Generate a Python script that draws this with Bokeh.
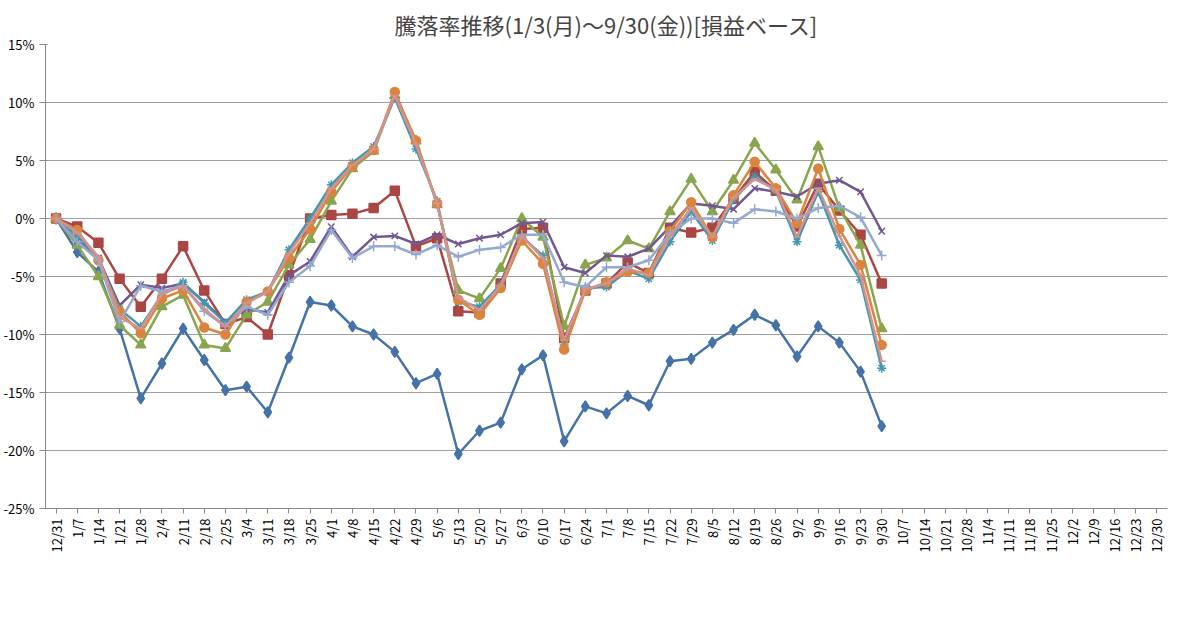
import math
from bokeh.plotting import figure
from bokeh.models import FactorRange, Range1d, FixedTicker, PrintfTickFormatter, Legend, LegendItem
from bokeh.embed import file_html
from bokeh.resources import INLINE

dates = ["12/31","1/7","1/14","1/21","1/28","2/4","2/11","2/18","2/25","3/4","3/11","3/18","3/25",
         "4/1","4/8","4/15","4/22","4/29","5/6","5/13","5/20","5/27","6/3","6/10","6/17","6/24",
         "7/1","7/8","7/15","7/22","7/29","8/5","8/12","8/19","8/26","9/2","9/9","9/16","9/23","9/30",
         "10/7","10/14","10/21","10/28","11/4","11/11","11/18","11/25","12/2","12/9","12/16","12/23","12/30"]

my_assets = [0,-2.9,-4.6,-9.5,-15.5,-12.5,-9.5,-12.2,-14.8,-14.5,-16.7,-12.0,-7.2,-7.5,-9.3,-10.0,-11.5,-14.2,-13.4,
             -20.3,-18.3,-17.6,-13.0,-11.8,-19.2,-16.2,-16.8,-15.3,-16.1,-12.3,-12.1,-10.7,-9.6,-8.3,-9.2,-11.9,-9.3,-10.7,-13.2,-17.9]
es_all = [0,-0.7,-2.1,-5.2,-7.6,-5.2,-2.4,-6.2,-9.1,-8.5,-10.0,-4.9,0.0,0.3,0.4,0.9,2.4,-2.4,-1.7,
          -8.0,-8.1,-5.6,-0.9,-0.8,-10.3,-6.2,-5.6,-3.8,-4.7,-0.8,-1.2,-0.8,1.7,4.0,2.4,-0.7,3.0,0.7,-1.4,-5.6]
fi_us = [0,-2.3,-5.0,-9.2,-10.9,-7.6,-6.6,-10.9,-11.2,-8.3,-7.2,-4.0,-1.8,1.5,4.3,5.8,10.6,6.7,1.2,
         -6.2,-6.9,-4.3,0.0,-1.6,-9.3,-4.0,-3.4,-1.9,-2.6,0.6,3.4,0.6,3.3,6.5,4.2,1.6,6.2,0.9,-2.3,-9.5]
fi_growth = [0,-1.9,-3.4,-7.5,-5.7,-6.0,-5.6,-7.2,-8.9,-7.8,-8.1,-4.9,-3.7,-0.7,-3.3,-1.6,-1.5,-2.2,-1.4,
             -2.2,-1.7,-1.4,-0.4,-0.3,-4.2,-4.7,-3.2,-3.3,-2.6,-0.7,1.3,1.1,0.8,2.6,2.3,1.9,3.0,3.3,2.3,-1.1]
dc_adv = [0,-1.5,-3.5,-7.8,-9.3,-6.6,-5.5,-7.3,-9.0,-7.0,-6.3,-2.7,0.0,2.9,4.8,6.2,10.4,6.0,1.5,
          -7.2,-7.6,-5.7,-1.6,-3.2,-10.9,-6.0,-5.9,-4.5,-5.2,-2.0,0.6,-1.9,1.6,3.6,2.4,-2.0,2.3,-2.3,-5.3,-12.9]
e_us = [0,-1.0,-3.6,-8.0,-9.9,-6.9,-6.2,-9.4,-10.0,-7.2,-6.3,-3.4,-0.9,2.3,4.5,5.9,10.9,6.7,1.3,
        -7.0,-8.3,-6.0,-1.9,-3.9,-11.3,-6.2,-5.5,-4.6,-4.7,-1.1,1.4,-1.6,2.0,4.9,2.6,-0.4,4.3,-0.9,-4.0,-10.9]
es_dom = [0,-2.0,-3.6,-8.9,-5.8,-6.3,-5.8,-8.0,-9.3,-7.6,-8.3,-5.5,-4.1,-1.0,-3.4,-2.4,-2.4,-3.1,-2.3,
          -3.3,-2.7,-2.5,-1.4,-1.4,-5.5,-5.9,-4.2,-4.2,-3.6,-1.3,0.0,0.0,-0.4,0.8,0.6,0.0,0.9,1.1,0.1,-3.2]
es_adv = [0,-1.2,-3.3,-8.5,-9.5,-6.5,-5.8,-7.8,-9.3,-7.3,-6.3,-3.0,-0.4,2.6,4.6,6.0,10.6,6.4,1.3,
          -6.8,-7.9,-5.8,-1.5,-3.4,-10.5,-6.1,-5.6,-4.3,-4.9,-1.5,0.9,-1.6,1.8,3.4,2.5,-1.6,2.6,-1.5,-4.9,-12.3]

series = [
    ("My資産", my_assets, "#4572A7", "diamond", 11),
    ("eS全株", es_all, "#AA4643", "square", 9),
    ("フィUSリD", fi_us, "#89A54E", "triangle", 10),
    ("フィJリ成長", fi_growth, "#71588F", "x", 9),
    ("DC先進リ", dc_adv, "#4198AF", "asterisk", 9),
    ("e米国リ", e_us, "#DB843D", "circle", 9),
    ("eS内リ", es_dom, "#93A9CF", "cross", 10),
    ("eS先リ", es_adv, "#D19392", "dash", 8),
]

p = figure(frame_width=1122, frame_height=464, x_range=FactorRange(*dates), y_range=Range1d(-25, 15),
           output_backend="svg", toolbar_location=None,
           title="騰落率推移(1/3(月)～9/30(金))[損益ベース]",
           min_border_left=10, min_border_right=12, min_border_top=10, min_border_bottom=4)
p.title.align = "center"
p.title.text_font = "Noto Sans CJK JP"
p.title.text_font_size = "22px"
p.title.text_font_style = "normal"
p.outline_line_color = None
p.border_fill_color = "white"
p.xgrid.grid_line_color = None
p.ygrid.grid_line_color = "#A0A0A0"
p.yaxis.ticker = FixedTicker(ticks=list(range(-25, 16, 5)))
p.yaxis.formatter = PrintfTickFormatter(format="%d%%")
p.xaxis.major_label_orientation = math.pi / 2
for ax in (p.xaxis, p.yaxis):
    ax.major_label_text_font = "Noto Sans CJK JP"
    ax.major_label_text_font_size = "13px"
    ax.major_label_text_color = "black"
    ax.axis_line_color = "#888888"
    ax.major_tick_line_color = "#888888"
    ax.minor_tick_line_color = None
p.xaxis.major_tick_out = 5
p.xaxis.major_tick_in = 0

items = []
for name, vals, color, marker, size in series:
    xs = dates[:len(vals)]
    r1 = p.line(xs, vals, line_color=color, line_width=2.5)
    r2 = p.scatter(xs, vals, marker=marker, size=size, fill_color=color, line_color=color, line_width=1.5)
    items.append(LegendItem(label=name, renderers=[r1, r2]))

legend = Legend(items=items, orientation="horizontal", location="center",
                label_text_font="Noto Sans CJK JP", label_text_font_size="12px",
                border_line_color=None, glyph_width=30, spacing=14, padding=2, margin=4)
p.add_layout(legend, "below")

open("out.html", "w").write(file_html(p, INLINE))
